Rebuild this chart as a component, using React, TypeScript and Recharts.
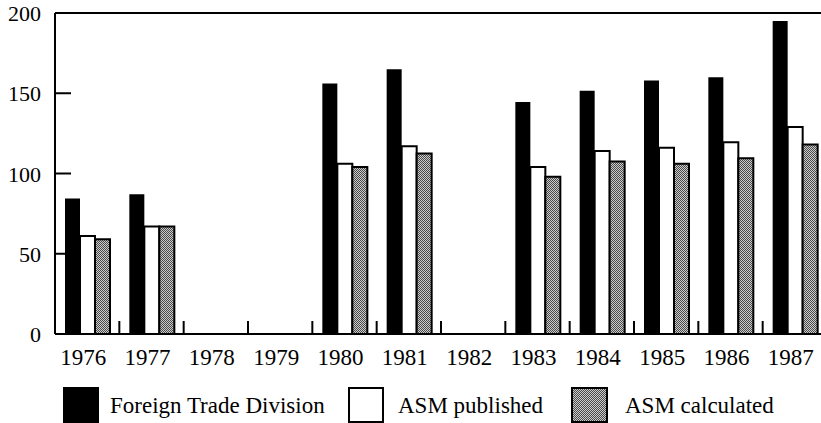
import React from 'react';
import { BarChart, Bar, XAxis, YAxis, Legend, ReferenceLine } from 'recharts';

const years = ['1976', '1977', '1978', '1979', '1980', '1981', '1982', '1983', '1984', '1985', '1986', '1987'];
const foreignTrade = [84.5, 87, null, null, 156, 165, null, 144.5, 151.5, 158, 160, 195];
const asmPublished = [61, 67, null, null, 106, 117, null, 104, 114, 116, 119.5, 129];
const asmCalculated = [59, 67, null, null, 104, 112.5, null, 98, 107.5, 106, 109.5, 118];
const yTicks = [0, 50, 100, 150, 200];

const data = years.map((year, i) => ({
  year,
  ftd: foreignTrade[i],
  pub: asmPublished[i],
  calc: asmCalculated[i],
}));

const W = 827;
const H = 423;
const Y_AXIS_W = 55;
const BAND = (W - Y_AXIS_W) / years.length;
const FONT = '"Liberation Serif", "Times New Roman", serif';

const XTick = (props: any) => {
  const { x, y, payload, index } = props;
  const bx = x + BAND / 2;
  return (
    <g>
      {index < years.length - 1 && (
        <line x1={bx} y1={y} x2={bx} y2={y - 13} stroke="#000" strokeWidth={2} />
      )}
      <text x={x - 4} y={y + 31} textAnchor="middle" fontSize={23} fontFamily={FONT} fill="#000">
        {payload.value}
      </text>
    </g>
  );
};

const YTick = (props: any) => {
  const { x, y, payload } = props;
  return (
    <g>
      <line x1={x} y1={y} x2={x + 16} y2={y} stroke="#000" strokeWidth={2} />
      <text x={x - 14} y={y + 8} textAnchor="end" fontSize={22} fontFamily={FONT} fill="#000">
        {payload.value}
      </text>
    </g>
  );
};

const LegendContent = () => (
  <svg width={W} height={40} style={{ display: 'block' }}>
    <rect x={63} y={4} width={36} height={36} fill="#000" />
    <text x={110} y={30} fontSize={23} fontFamily={FONT} fill="#000">Foreign Trade Division</text>
    <rect x={349} y={5} width={34} height={34} fill="#fff" stroke="#000" strokeWidth={2} />
    <text x={398} y={30} fontSize={23} fontFamily={FONT} fill="#000">ASM published</text>
    <rect x={572} y={5} width={35} height={34} fill="url(#stipple)" stroke="#000" strokeWidth={2} />
    <text x={625} y={30} fontSize={23} fontFamily={FONT} fill="#000">ASM calculated</text>
  </svg>
);

export default function App() {
  return (
    <div style={{ position: 'absolute', left: 0, top: 0, width: 821, height: H, overflow: 'hidden', background: '#fff' }}>
      <svg width={0} height={0} style={{ position: 'absolute' }}>
        <defs>
          <pattern id="stipple" width={2} height={2} patternUnits="userSpaceOnUse">
            <rect width={2} height={2} fill="#cccccc" />
            <rect width={1} height={1} fill="#4a4a4a" />
            <rect x={1} y={1} width={1} height={1} fill="#4a4a4a" />
          </pattern>
        </defs>
      </svg>
      <BarChart
        width={W}
        height={H}
        data={data}
        margin={{ top: 13, right: 0, bottom: 0, left: 0 }}
        barCategoryGap={10}
        barGap={0}
      >
        <XAxis
          dataKey="year"
          height={49}
          axisLine={{ stroke: '#000', strokeWidth: 2 }}
          tickLine={false}
          tickSize={0}
          tickMargin={0}
          interval={0}
          tick={<XTick />}
        />
        <YAxis
          width={Y_AXIS_W}
          domain={[0, 200]}
          ticks={yTicks}
          axisLine={{ stroke: '#000', strokeWidth: 2 }}
          tickLine={false}
          tickSize={0}
          tickMargin={0}
          tick={<YTick />}
        />
        <ReferenceLine y={200} stroke="#000" strokeWidth={2} />
        <Legend verticalAlign="bottom" height={40} content={<LegendContent />} wrapperStyle={{ left: 0, width: W }} />
        <Bar dataKey="ftd" name="Foreign Trade Division" fill="#000" isAnimationActive={false} />
        <Bar dataKey="pub" name="ASM published" fill="#fff" stroke="#000" strokeWidth={2} isAnimationActive={false} />
        <Bar dataKey="calc" name="ASM calculated" fill="url(#stipple)" stroke="#000" strokeWidth={2} isAnimationActive={false} />
      </BarChart>
    </div>
  );
}
